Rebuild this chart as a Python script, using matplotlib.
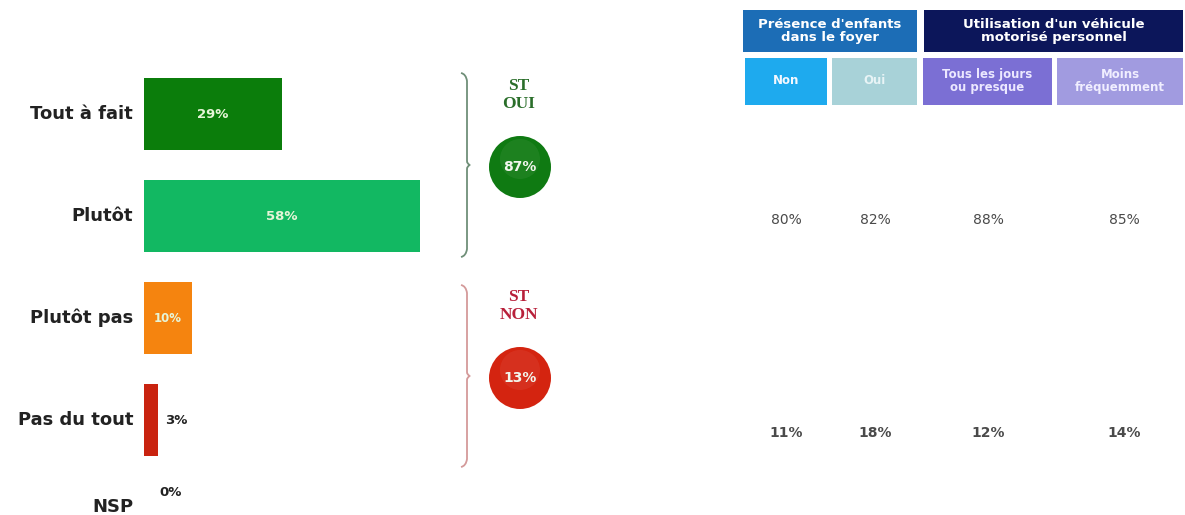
import numpy as np
import matplotlib
matplotlib.use("Agg")
import matplotlib.pyplot as plt
from matplotlib.patches import Rectangle, Circle, PathPatch
from matplotlib.path import Path

# ---------------- data ----------------
categories = ["Tout à fait", "Plutôt", "Plutôt pas", "Pas du tout", "NSP"]
values = [29, 58, 10, 3, 0]
bar_colors = ["#0b7d0b", "#12b862", "#f5840f", "#c9230f", "#999999"]

st_labels = ["ST\nOUI", "ST\nNON"]
st_values = [87, 13]
st_colors = ["#0f7a12", "#d42410"]
st_text_colors = ["#2a6e2a", "#b8203a"]
brace_colors = ["#6f8f78", "#d49a9a"]

group_titles = ["Présence d'enfants\ndans le foyer", "Utilisation d'un véhicule\nmotorisé personnel"]
group_colors = ["#1c6db6", "#0c165a"]
sub_titles = ["Non", "Oui", "Tous les jours\nou presque", "Moins\nfréquemment"]
sub_colors = ["#1eaaee", "#a8d2d8", "#7b6fd4", "#a19be0"]
sub_text_colors = ["#f4f8ff", "#e8f4f6", "#ece8ff", "#f0eeff"]
oui_by_sub = [80, 82, 88, 85]
non_by_sub = [11, 18, 12, 14]

W, H = 1185, 515
fig = plt.figure(figsize=(W / 100, H / 100), dpi=100)
fig.patch.set_facecolor("white")

FONT = "DejaVu Sans"

# ---------------- bar axes ----------------
# 0% at x=144 px, 100% at x=620 px ; category i centre at 114 + 102*i px
ax = fig.add_axes([144 / W, 0, 476 / W, 452 / H])
ypos = np.array([0, 1, 2, 3, 3.85])
ax.set_xlim(0, 100)
ax.set_ylim(-0.5 + 452 / 102, -0.5)
ax.axis("off")
ax.barh(ypos[:4], values[:4], height=0.7, color=bar_colors[:4], edgecolor="none")

for i, (c, v) in enumerate(zip(categories, values)):
    ax.text(-2.3, ypos[i], c, ha="right", va="center", fontsize=13,
            fontweight="bold", color="#222222", family=FONT)
    lab = f"{v}%"
    if v >= 8:
        ax.text(v / 2, ypos[i], lab, ha="center", va="center",
                fontsize=9.5 if v > 12 else 8.5,
                fontweight="bold", color="#e6f5d8", family=FONT)
    else:
        ax.text(v + 1.4 if v > 0 else 3.3, ypos[i] - (0.14 if v == 0 else 0), lab,
                ha="left", va="center", fontsize=9.5,
                fontweight="bold", color="#222222", family=FONT)

# ---------------- overlay axes in pixel coordinates ----------------
ov = fig.add_axes([0, 0, 1, 1], facecolor="none")
ov.set_xlim(0, W)
ov.set_ylim(H, 0)
ov.axis("off")


def brace(x, y0, y1, color):
    ym = (y0 + y1) / 2
    verts = [(x - 5, y0), (x, y0 + 1), (x + 1, y0 + 8),
             (x + 1, ym - 4), (x + 1, ym - 1), (x + 4, ym),
             (x + 1, ym + 1), (x + 1, ym + 4),
             (x + 1, y1 - 8), (x, y1 - 1), (x - 5, y1)]
    codes = [Path.MOVETO, Path.CURVE3, Path.CURVE3,
             Path.LINETO, Path.CURVE3, Path.CURVE3,
             Path.CURVE3, Path.CURVE3,
             Path.LINETO, Path.CURVE3, Path.CURVE3]
    ov.add_patch(PathPatch(Path(verts, codes), fill=False, lw=1.3, ec=color))


brace_spans = [(73, 257), (285, 467)]
st_text_y = [95, 306]
circle_y = [167, 378]
for k in range(2):
    brace(466, brace_spans[k][0], brace_spans[k][1], brace_colors[k])
    ov.text(519, st_text_y[k], st_labels[k], ha="center", va="center",
            fontsize=12.5, fontweight="bold", color=st_text_colors[k],
            family="Liberation Serif", linespacing=1.2)
    ov.add_patch(Circle((520, circle_y[k]), 31, color=st_colors[k], ec="none"))
    ov.add_patch(Circle((520, circle_y[k] - 8), 20, color="white", alpha=0.06, ec="none"))
    ov.text(520, circle_y[k], f"{st_values[k]}%", ha="center", va="center",
            fontsize=10, fontweight="bold", color="#f2f7ee", family=FONT)

# ---------------- table header ----------------
group_boxes = [(743, 917), (924, 1183)]
for (x0, x1), t, col in zip(group_boxes, group_titles, group_colors):
    ov.add_patch(Rectangle((x0, 10), x1 - x0, 42, color=col, ec="none"))
    ov.text((x0 + x1) / 2, 31, t, ha="center", va="center", fontsize=9.5,
            fontweight="bold", color="white", family=FONT, linespacing=1.1)

sub_boxes = [(745, 827), (832, 917), (923, 1052), (1057, 1183)]
for (x0, x1), t, col, tc in zip(sub_boxes, sub_titles, sub_colors, sub_text_colors):
    ov.add_patch(Rectangle((x0, 58), x1 - x0, 47, color=col, ec="none"))
    ov.text((x0 + x1) / 2, 81, t, ha="center", va="center", fontsize=8.5,
            fontweight="bold", color=tc, family=FONT, linespacing=1.05)

value_x = [786, 875, 988, 1124]
for xv, a, b in zip(value_x, oui_by_sub, non_by_sub):
    ov.text(xv, 220, f"{a}%", ha="center", va="center", fontsize=10,
            color="#4a4a4a", family=FONT)
    ov.text(xv, 433, f"{b}%", ha="center", va="center", fontsize=10,
            fontweight="bold", color="#4a4a4a", family=FONT)

fig.savefig("out.png", dpi=100, facecolor="white")
